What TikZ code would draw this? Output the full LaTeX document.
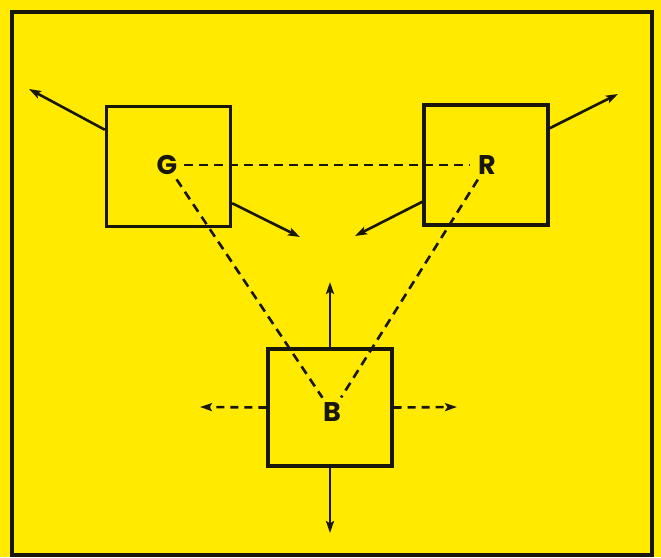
\documentclass[tikz,border=0pt]{standalone}
\usepackage{fontspec}
\setmainfont{Poppins}
\usetikzlibrary{arrows.meta}
\definecolor{bgyellow}{RGB}{255,234,0}
\definecolor{ink}{RGB}{25,22,10}
\tikzset{
  box/.style={draw=ink, line width=3.3pt, minimum width=124pt, minimum height=120pt, inner sep=0pt},
  lbl/.style={circle, minimum size=34pt, inner sep=0pt, text=ink, font=\fontsize{27}{27}\selectfont\bfseries},
  ray/.style={draw=ink, line width=2.6pt, -{Stealth[length=12pt,width=8pt,inset=2.5pt]}},
  dashray/.style={ray, dash pattern=on 8pt off 6pt},
  link/.style={draw=ink, line width=2.6pt, dash pattern=on 9pt off 6pt}
}
\begin{document}
\begin{tikzpicture}[x=1pt,y=-1pt]
\fill[bgyellow] (0,0) rectangle (661,557);
\useasboundingbox (0,0) rectangle (661,557);
\draw[ink, line width=3.8pt] (12,12) rectangle (652,555);
% boxes
\node[box] (boxG) at (168.5,166.5) {};
\node[box] (boxR) at (486,165) {};
\node[box, minimum height=117pt] (boxB) at (330,407.5) {};
% labels
\node[lbl] (G) at (167,165) {G};
\node[lbl] (R) at (487,165) {R};
\node[lbl] (B) at (332,412) {B};
% dashed triangle
\draw[link] (G) -- (R);
\draw[link] (G) -- (B);
\draw[link] (R) -- (B);
% arrow tips
\coordinate (gul) at (29,89);
\coordinate (glr) at (300,237);
\coordinate (rur) at (618,94);
\coordinate (rll) at (355,236);
\coordinate (bup) at (330,282);
\coordinate (bdn) at (330,533);
\coordinate (blt) at (200,407);
\coordinate (brt) at (457,407);
% arrows
\draw[ray] (boxG.150) -- (gul);
\draw[ray] (boxG.-30) -- (glr);
\draw[ray] (boxR.30) -- (rur);
\draw[ray] (boxR.210) -- (rll);
\draw[ray] (boxB.north) -- (bup);
\draw[ray] (boxB.south) -- (bdn);
\draw[dashray] (boxB.west) -- (blt);
\draw[dashray] (boxB.east) -- (brt);
\end{tikzpicture}
\end{document}
